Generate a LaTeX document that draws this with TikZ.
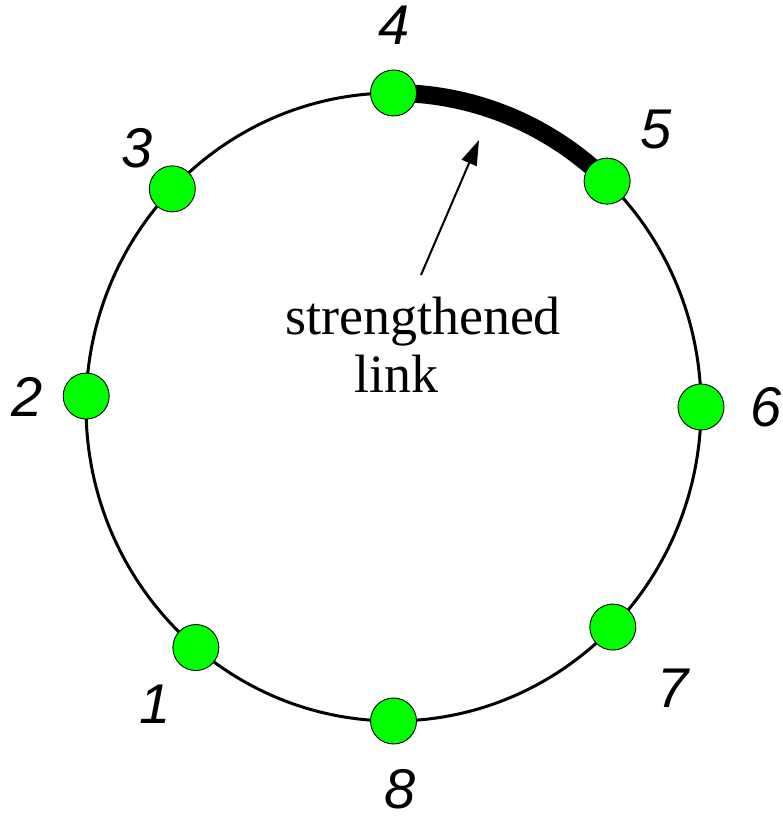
\documentclass[tikz,border=0pt]{standalone}
\usepackage{fontspec}
\setmainfont{Liberation Serif}
\newfontfamily\numfont{Liberation Sans}
\usetikzlibrary{arrows.meta}

\begin{document}
\begin{tikzpicture}[x=1pt,y=1pt,
  peer/.style={circle,draw,line width=0.9pt,fill=green,minimum size=46pt,inner sep=0pt},
  num/.style={font=\fontsize{56}{60}\selectfont\numfont\itshape,inner sep=0pt},
  txt/.style={font=\fontsize{54}{58}\selectfont,anchor=base}]
  \useasboundingbox (0,0) rectangle (783,821);
  \draw[line width=3pt] (393.5,414) ellipse[x radius=307.5,y radius=314];
  \draw[line width=18pt] (393.5,728) arc[start angle=90,end angle=47,x radius=307.5,y radius=314];
  \foreach \n/\a/\lx/\ly in {4/90/394/796,5/46/656/691,6/0/766/414,7/-44.5/673/133,
                             8/-90/400/32,1/-130/155/117,2/178/27/424,3/136/137/673}
    {\node[peer] (p\n) at ({393.5+307.5*cos(\a)},{414+314*sin(\a)}) {};
     \node[num] (l\n) at (\lx,\ly) {\n};}
  \node[txt] (strong) at (423,486) {strengthened};
  \node[txt] (link) at (396,428) {link};
  \coordinate (tail) at (421,546);
  \coordinate (tip) at (479,681);
  \draw[line width=2pt,-{Triangle[length=25pt,width=16pt]}] (tail) -- (tip);
\end{tikzpicture}
\end{document}
